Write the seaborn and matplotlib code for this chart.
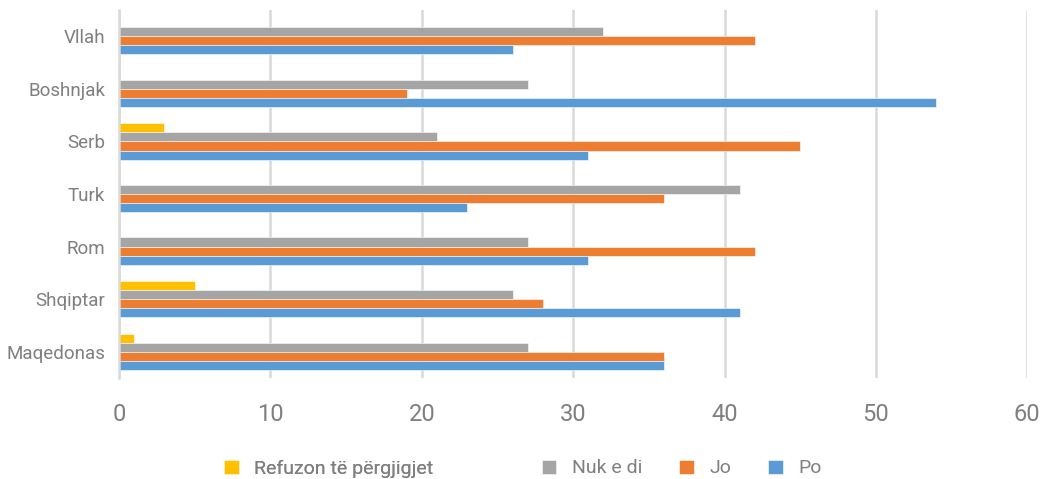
import pandas as pd
import matplotlib.pyplot as plt
import seaborn as sns

sns.set_theme(style="white")
plt.rcParams["font.family"] = ["Roboto", "DejaVu Sans"]

categories = ["Vllah", "Boshnjak", "Serb", "Turk", "Rom", "Shqiptar", "Maqedonas"]
series = ["Refuzon të përgjigjet", "Nuk e di", "Jo", "Po"]
refuzon = [0, 0, 3, 0, 0, 5, 1]
nuk_e_di = [32, 27, 21, 41, 27, 26, 27]
jo = [42, 19, 45, 36, 42, 28, 36]
po = [26, 54, 31, 23, 31, 41, 36]
colors = ["#FFC000", "#A5A5A5", "#ED7D31", "#5B9BD5"]

df = pd.DataFrame({
    "grupi": categories * 4,
    "seria": [s for s in series for _ in categories],
    "vlera": refuzon + nuk_e_di + jo + po,
})

fig = plt.figure(figsize=(10.44, 4.79), dpi=100)
ax = fig.add_axes([0.114, 0.211, 0.870, 0.768])

sns.barplot(data=df, y="grupi", x="vlera", hue="seria", order=categories,
            hue_order=series, palette=colors, orient="h", width=0.69,
            saturation=1, edgecolor="white", linewidth=0.4, ax=ax, legend=True)

ax.set_xlim(0, 60)
ax.set_ylim(6.5, -0.5)
ax.set_xticks(range(0, 61, 10))
ax.xaxis.grid(True, color="#D9D9D9", linewidth=1.8)
ax.set_axisbelow(True)
for s in ["top", "right", "bottom"]:
    ax.spines[s].set_visible(False)
ax.spines["left"].set_color("#D9D9D9")
ax.spines["left"].set_linewidth(1.8)
ax.set_xlabel("")
ax.set_ylabel("")
ax.tick_params(axis="x", labelsize=17, labelcolor="#7F7F7F", length=0, pad=18)
ax.tick_params(axis="y", labelsize=13.5, labelcolor="#7F7F7F", length=0, pad=10)

# legjenda poshte, ne dy pjese si ne origjinal
handles, labels = ax.get_legend_handles_labels()
ax.get_legend().remove()
kw = dict(frameon=False, labelcolor="#7F7F7F", handlelength=0.75,
          handleheight=0.75, handletextpad=0.8, prop={"size": 14})
leg1 = fig.legend(handles[:1], labels[:1], loc="center left",
                  bbox_to_anchor=(0.198, 0.022), **kw)
fig.legend(handles[1:], labels[1:], loc="center left", ncol=3, columnspacing=1.9,
           bbox_to_anchor=(0.502, 0.022), **kw)
fig.add_artist(leg1)

plt.savefig("out.png", dpi=100)
